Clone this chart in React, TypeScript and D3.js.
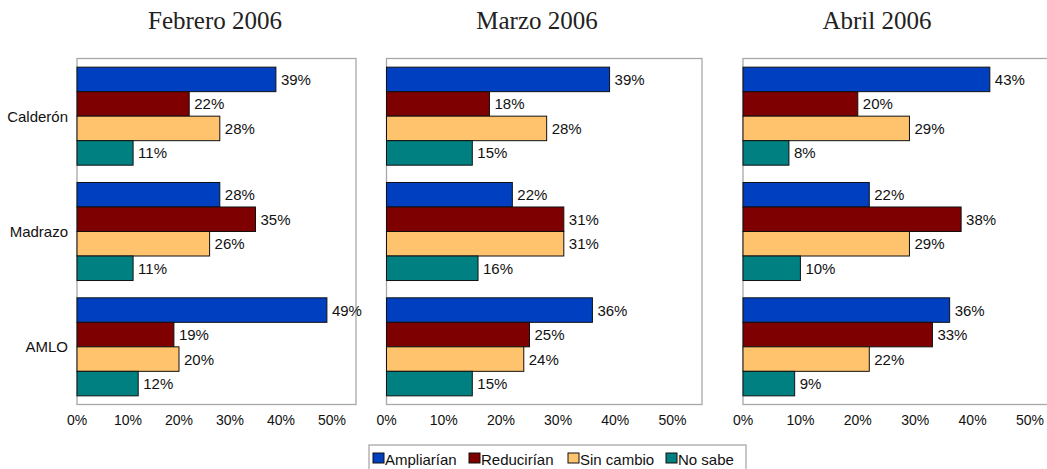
import React from "react";
import * as d3 from "d3";

const candidates = ["Calderón", "Madrazo", "AMLO"];
const seriesNames = ["Ampliarían", "Reducirían", "Sin cambio", "No sabe"];
const seriesColors = ["#0040C0", "#7F0000", "#FFC36E", "#008080"];
const panelTitles = ["Febrero 2006", "Marzo 2006", "Abril 2006"];
const ticks = [0, 10, 20, 30, 40, 50];

// values[candidate][series]
const febrero = [
  [39, 22, 28, 11],
  [28, 35, 26, 11],
  [49, 19, 20, 12],
];
const marzo = [
  [39, 18, 28, 15],
  [22, 31, 31, 16],
  [36, 25, 24, 15],
];
const abril = [
  [43, 20, 29, 8],
  [22, 38, 29, 10],
  [36, 33, 22, 9],
];
const panelData = [febrero, marzo, abril];

const panels = [
  { x0: 77, x50: 332, right: 356, titleX: 215 },
  { x0: 386.5, x50: 672.5, right: 702, titleX: 537 },
  { x0: 743, x50: 1030, right: 1052, titleX: 877 },
];

const TOP = 58.5;
const BOTTOM = 404.5;
const FONT = "'Liberation Sans', Arial, sans-serif";

export default function App() {
  const yGroup = d3
    .scaleBand<string>()
    .domain(candidates)
    .range([TOP, BOTTOM])
    .paddingInner(0.15)
    .paddingOuter(0.075);
  const ySeries = d3
    .scaleBand<string>()
    .domain(seriesNames)
    .range([0, yGroup.bandwidth()]);

  return (
    <svg
      width={1047}
      height={469}
      style={{ position: "absolute", left: 0, top: 0, background: "#fff" }}
    >
      {panels.map((p, pi) => {
        const x = d3.scaleLinear().domain([0, 50]).range([p.x0, p.x50]);
        const data = panelData[pi];
        return (
          <g key={pi}>
            <text
              x={p.titleX}
              y={29}
              textAnchor="middle"
              fontFamily="'Liberation Serif', 'Times New Roman', serif"
              fontSize={25}
              fill="#222"
            >
              {panelTitles[pi]}
            </text>
            <rect
              x={p.x0}
              y={TOP}
              width={p.right - p.x0}
              height={BOTTOM - TOP}
              fill="#fff"
              stroke="#a8a8a8"
              strokeWidth={1.3}
            />
            {candidates.map((c, ci) =>
              seriesNames.map((s, si) => {
                const v = data[ci][si];
                const y = (yGroup(c) as number) + (ySeries(s) as number);
                const h = ySeries.bandwidth();
                return (
                  <g key={c + s}>
                    <rect
                      x={x(0)}
                      y={y}
                      width={x(v) - x(0)}
                      height={h}
                      fill={seriesColors[si]}
                      stroke="#111"
                      strokeWidth={1}
                    />
                    <text
                      x={x(v) + 5}
                      y={y + h / 2 + 5.5}
                      fontFamily={FONT}
                      fontSize={15}
                      fill="#111"
                    >
                      {v}%
                    </text>
                  </g>
                );
              })
            )}
            {ticks.map((t) => (
              <text
                key={t}
                x={x(t)}
                y={425}
                textAnchor="middle"
                fontFamily={FONT}
                fontSize={14}
                fill="#111"
              >
                {t}%
              </text>
            ))}
            {pi === 0 &&
              candidates.map((c) => (
                <text
                  key={c}
                  x={68}
                  y={(yGroup(c) as number) + yGroup.bandwidth() / 2 + 5.5}
                  textAnchor="end"
                  fontFamily={FONT}
                  fontSize={15}
                  fill="#111"
                >
                  {c}
                </text>
              ))}
          </g>
        );
      })}
      <g>
        <rect
          x={369}
          y={445}
          width={377}
          height={30}
          fill="#fff"
          stroke="#a8a8a8"
          strokeWidth={1.3}
        />
        {seriesNames.map((s, i) => {
          const lx = [373, 469, 568, 666][i];
          return (
            <g key={s}>
              <rect
                x={lx}
                y={453}
                width={11}
                height={10}
                fill={seriesColors[i]}
                stroke="#111"
                strokeWidth={1}
              />
              <text
                x={lx + 12}
                y={464.5}
                fontFamily={FONT}
                fontSize={15}
                fill="#111"
              >
                {s}
              </text>
            </g>
          );
        })}
      </g>
    </svg>
  );
}
